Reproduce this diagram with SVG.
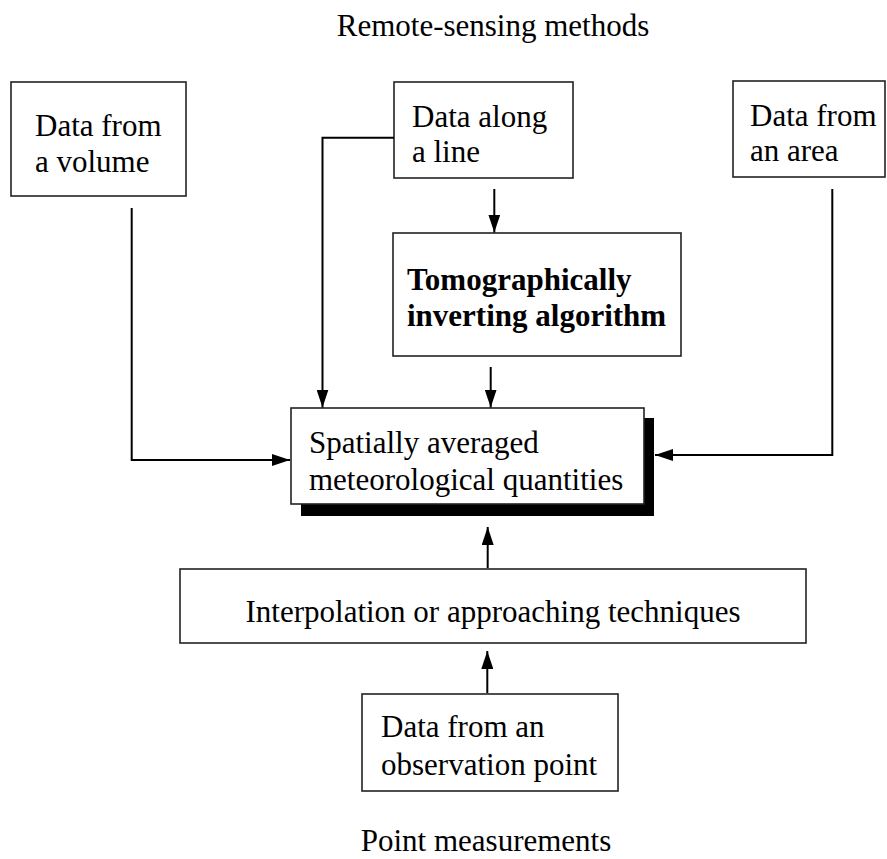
<svg xmlns="http://www.w3.org/2000/svg" width="887" height="859" viewBox="0 0 887 859">
<style>
  .box { fill: #fff; stroke: #222; stroke-width: 1.6; }
  .shadow { fill: #000; }
  .t { font-family: "Liberation Serif", "Times New Roman", serif; font-size: 31px; fill: #000; }
  .b { font-weight: bold; }
  .c { fill: none; stroke: #000; stroke-width: 2; }
</style>
<defs>
  <marker id="ah" markerUnits="userSpaceOnUse" markerWidth="18" markerHeight="12" refX="18" refY="6" orient="auto">
    <path d="M0,0 L18,6 L0,12 z" fill="#000"/>
  </marker>
</defs>
<rect width="887" height="859" fill="#fff"/>
<text class="t" x="493" y="36" text-anchor="middle">Remote-sensing methods</text>
<text class="t" x="486" y="851" text-anchor="middle">Point measurements</text>

<g id="volume">
  <rect class="box" x="11" y="82" width="175" height="114"/>
  <text class="t" x="35" y="136">Data from</text>
  <text class="t" x="35" y="172">a volume</text>
</g>
<g id="line">
  <rect class="box" x="394" y="82" width="179" height="96"/>
  <text class="t" x="412" y="127">Data along</text>
  <text class="t" x="412" y="162">a line</text>
</g>
<g id="area">
  <rect class="box" x="733" y="81" width="152" height="96"/>
  <text class="t" x="750" y="126">Data from</text>
  <text class="t" x="750" y="161">an area</text>
</g>
<g id="tomo">
  <rect class="box" x="393" y="233" width="288" height="123"/>
  <text class="t b" x="407" y="290">Tomographically</text>
  <text class="t b" x="407" y="326">inverting algorithm</text>
</g>
<g id="spatial">
  <rect class="shadow" x="301" y="418" width="353" height="98"/>
  <rect class="box" x="291" y="408" width="353" height="96"/>
  <text class="t" x="309" y="453">Spatially averaged</text>
  <text class="t" x="309" y="490">meteorological quantities</text>
</g>
<g id="interp">
  <rect class="box" x="180" y="569" width="626" height="74"/>
  <text class="t" x="493" y="622" text-anchor="middle">Interpolation or approaching techniques</text>
</g>
<g id="obs">
  <rect class="box" x="362" y="694" width="256" height="97"/>
  <text class="t" x="381" y="737">Data from an</text>
  <text class="t" x="381" y="775">observation point</text>
</g>

<g id="connectors">
  <path class="c" d="M131.7,208 V460 H290" marker-end="url(#ah)"/>
  <path class="c" d="M394,137.7 H322.5 V407.5" marker-end="url(#ah)"/>
  <path class="c" d="M494.3,189 V232.5" marker-end="url(#ah)"/>
  <path class="c" d="M490.7,367 V407.5" marker-end="url(#ah)"/>
  <path class="c" d="M832.3,189 V455 H655" marker-end="url(#ah)"/>
  <path class="c" d="M487.7,568 V527" marker-end="url(#ah)"/>
  <path class="c" d="M487.3,693 V651" marker-end="url(#ah)"/>
</g>
</svg>
